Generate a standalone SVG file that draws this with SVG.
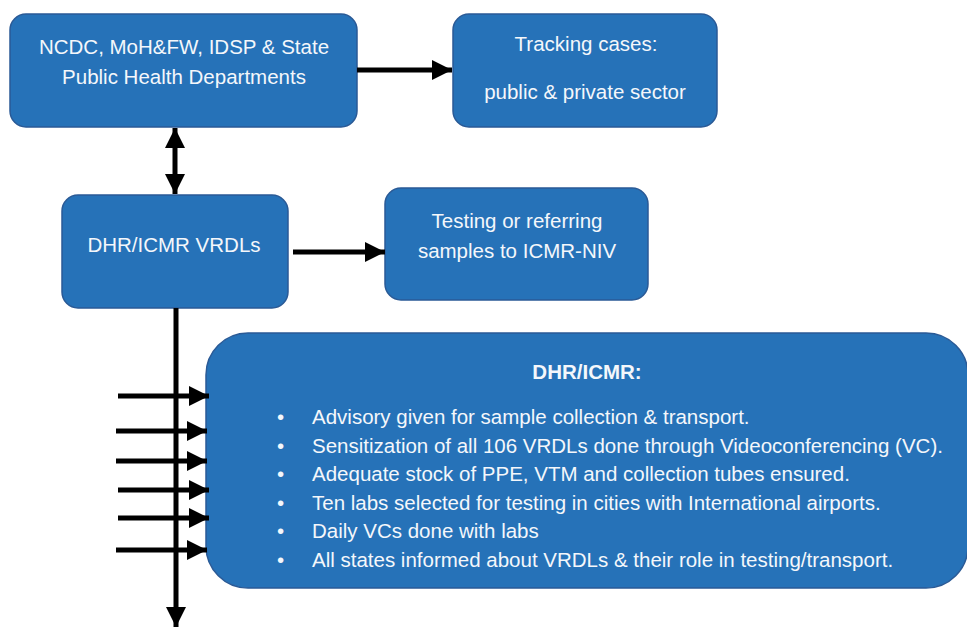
<svg xmlns="http://www.w3.org/2000/svg" width="967" height="628" viewBox="0 0 967 628">
<style>
.box{fill:#2672b8;stroke:#2a5a96;stroke-width:1.5}
.t{font-family:"Liberation Sans",Arial,sans-serif;font-size:20.5px;fill:#f4f7fb}
.c{text-anchor:middle}
.b{font-weight:bold}
.ln{stroke:#000;stroke-width:5;fill:none}
</style>
<defs>
<marker id="ah" viewBox="0 0 10 10" refX="10" refY="5" markerWidth="4" markerHeight="4" markerUnits="strokeWidth" orient="auto-start-reverse">
<path d="M0,0 L10,5 L0,10 z" fill="#000"/>
</marker>
</defs>
<g id="n1"><rect class="box" x="10" y="14" width="347" height="113" rx="16"/>
<text class="t c" x="184" y="54">NCDC, MoH&amp;FW, IDSP &amp; State</text>
<text class="t c" x="184" y="84">Public Health Departments</text></g>
<g id="n2"><rect class="box" x="453" y="14" width="264" height="113" rx="16"/>
<text class="t c" x="586" y="51">Tracking cases:</text>
<text class="t c" x="585" y="99">public &amp; private sector</text></g>
<g id="n3"><rect class="box" x="62" y="195" width="226" height="113" rx="16"/>
<text class="t c" x="174" y="252">DHR/ICMR VRDLs</text></g>
<g id="n4"><rect class="box" x="385" y="188" width="263" height="112" rx="16"/>
<text class="t c" x="517" y="228">Testing or referring</text>
<text class="t c" x="517" y="258">samples to ICMR-NIV</text></g>
<g id="n5"><rect class="box" x="206" y="333" width="762" height="255" rx="42"/>
<text class="t c b" x="587" y="379">DHR/ICMR:</text>
<g class="t">
<text x="277" y="424">•</text><text x="312" y="424">Advisory given for sample collection &amp; transport.</text>
<text x="277" y="452.5">•</text><text x="312" y="452.5">Sensitization of all 106 VRDLs done through Videoconferencing (VC).</text>
<text x="277" y="481">•</text><text x="312" y="481">Adequate stock of PPE, VTM and collection tubes ensured.</text>
<text x="277" y="509.5">•</text><text x="312" y="509.5">Ten labs selected for testing in cities with International airports.</text>
<text x="277" y="538">•</text><text x="312" y="538">Daily VCs done with labs</text>
<text x="277" y="566.5">•</text><text x="312" y="566.5">All states informed about VRDLs &amp; their role in testing/transport.</text>
</g></g>
<g id="connectors">
<line class="ln" x1="357" y1="70" x2="452" y2="70" marker-end="url(#ah)"/>
<line class="ln" x1="175" y1="128" x2="175" y2="194" marker-start="url(#ah)" marker-end="url(#ah)"/>
<line class="ln" x1="293" y1="252" x2="385" y2="252" marker-end="url(#ah)"/>
<line class="ln" x1="176" y1="308" x2="176" y2="627" marker-end="url(#ah)"/>
<line class="ln" x1="118" y1="396" x2="209" y2="396" marker-end="url(#ah)"/>
<line class="ln" x1="116" y1="431" x2="207" y2="431" marker-end="url(#ah)"/>
<line class="ln" x1="116" y1="461" x2="207" y2="461" marker-end="url(#ah)"/>
<line class="ln" x1="118" y1="490" x2="209" y2="490" marker-end="url(#ah)"/>
<line class="ln" x1="118" y1="518" x2="209" y2="518" marker-end="url(#ah)"/>
<line class="ln" x1="116" y1="550" x2="207" y2="550" marker-end="url(#ah)"/>
</g>
</svg>
